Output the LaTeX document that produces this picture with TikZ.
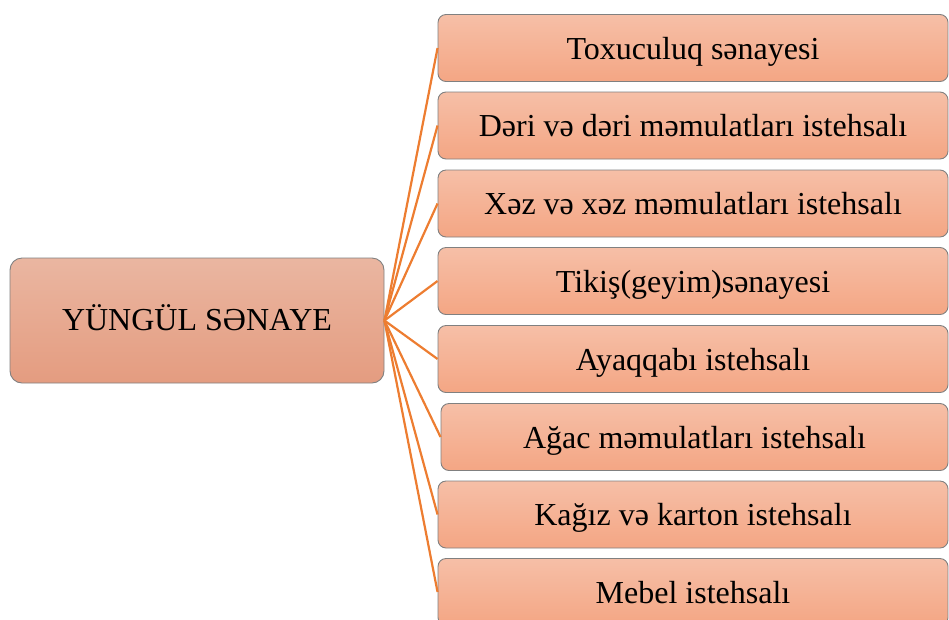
\documentclass[tikz,border=0pt]{standalone}
\usepackage{fontspec}
\setmainfont{Liberation Serif}
\begin{document}
\begin{tikzpicture}[x=1pt,y=-1pt,
  rbox/.style={draw=black!50, line width=0.9pt, rounded corners=8pt,
    top color=boxtop, bottom color=boxbot, minimum width=510pt, minimum height=67pt,
    inner sep=0pt, text height=30pt, text depth=8pt, font=\fontsize{32}{38}\selectfont},
  lbox/.style={draw=black!50, line width=0.9pt, rounded corners=12pt,
    top color=ltop, bottom color=lbot, minimum width=374pt, minimum height=125pt,
    inner sep=0pt, text height=27pt, text depth=8pt, font=\fontsize{32}{38}\selectfont},
  conn/.style={draw=connor, line width=2.2pt}]
\definecolor{boxtop}{HTML}{F6BFA7}
\definecolor{boxbot}{HTML}{F4A684}
\definecolor{ltop}{HTML}{EAB6A1}
\definecolor{lbot}{HTML}{E49C80}
\definecolor{connor}{HTML}{ED7D31}
\useasboundingbox (0,0) rectangle (949,619);
\clip (0,0) rectangle (949,619);
\node[lbox] (L) at (197,320.5) {YÜNGÜL SƏNAYE};
\node[rbox] (b1) at (693,48) {Toxuculuq sənayesi};
\node[rbox] (b2) at (693,125.5) {Dəri və dəri məmulatları istehsalı};
\node[rbox] (b3) at (693,203.5) {Xəz və xəz məmulatları istehsalı};
\node[rbox] (b4) at (693,281) {Tikiş(geyim)sənayesi};
\node[rbox] (b5) at (693,359) {Ayaqqabı istehsalı};
\node[rbox, minimum width=507pt] (b6) at (694.5,437) {Ağac məmulatları istehsalı};
\node[rbox] (b7) at (693,514.5) {Kağız və karton istehsalı};
\node[rbox] (b8) at (693,592) {Mebel istehsalı};
\foreach \b in {b1,b2,b3,b4,b5,b6,b7,b8}
  \draw[conn] (L.east) -- (\b.west);
\end{tikzpicture}
\end{document}
